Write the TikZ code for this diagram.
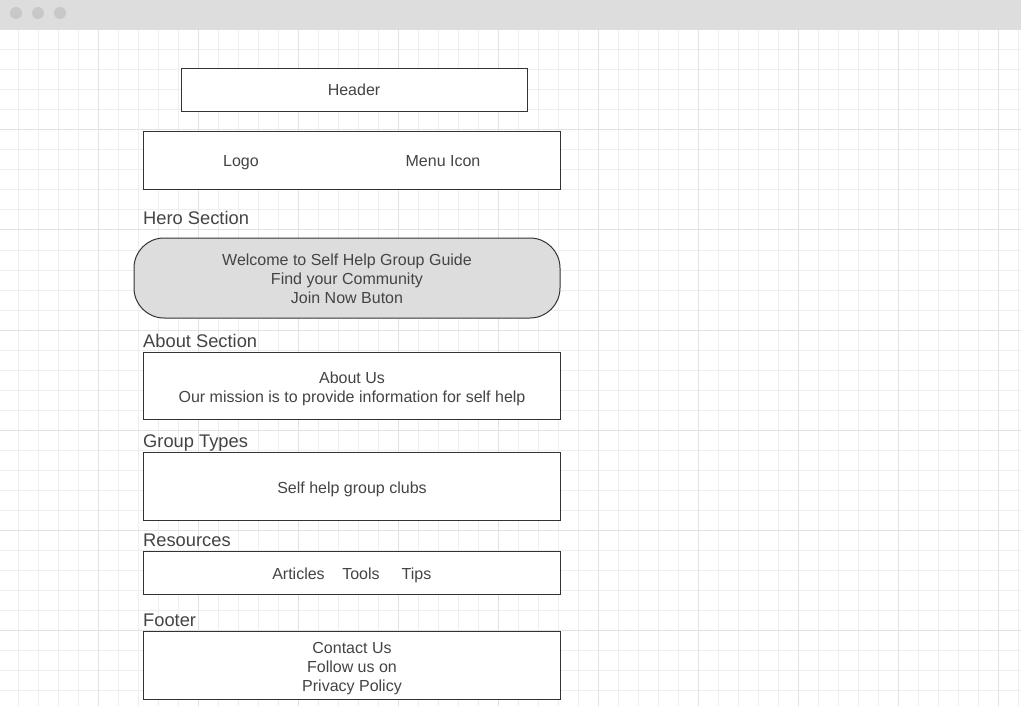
\documentclass[tikz,border=0pt]{standalone}
\usepackage{fontspec}
\setmainfont{Liberation Sans}
\definecolor{gridminor}{HTML}{EEEEEE}
\definecolor{gridmajor}{HTML}{E2E2E2}
\definecolor{barbg}{HTML}{DDDDDD}
\definecolor{dotc}{HTML}{C8C8C8}
\definecolor{txt}{HTML}{444444}
\definecolor{edge}{HTML}{333333}
\definecolor{herofill}{HTML}{DDDDDD}
\tikzset{
  box/.style={draw=edge, line width=1pt, fill=white, inner sep=0pt},
  boxtext/.style={text=txt, font=\fontsize{16}{19}\selectfont, align=center, inner sep=0pt, anchor=base},
  seclabel/.style={text=txt, font=\fontsize{18.3}{20}\selectfont, anchor=base west, inner sep=0pt},
}
\begin{document}
\begin{tikzpicture}[x=1pt,y=-1pt]
\useasboundingbox (0,0) rectangle (1021,706);
\fill[white] (0,0) rectangle (1021,706);
% grid
\foreach \x in {18,38,...,1018} \draw[gridminor, line width=1pt] (\x,30) -- (\x,706);
\foreach \y in {50,70,...,706} \draw[gridminor, line width=1pt] (0,\y) -- (1021,\y);
\foreach \x in {98,198,...,998} \draw[gridmajor, line width=1pt] (\x,30) -- (\x,706);
\foreach \y in {130,230,...,630} \draw[gridmajor, line width=1pt] (0,\y) -- (1021,\y);
% top bar
\fill[barbg] (0,0) rectangle (1021,30);
\fill[dotc] (16,13) circle (6);
\fill[dotc] (38,13) circle (6);
\fill[dotc] (60,13) circle (6);
% header
\draw[box] (181,69) rectangle (527,112);
\node[boxtext] (header) at (354,96) {Header};
% logo / menu
\draw[box] (143,132) rectangle (560,190);
\node[boxtext] (logo) at (241,167) {Logo};
\node[boxtext] (menu) at (443,167) {Menu Icon};
% hero
\node[seclabel] (herolbl) at (143,225) {Hero Section};
\draw[draw=edge, line width=1pt, fill=herofill, rounded corners=30pt] (134,238) rectangle (560,318);
\node[boxtext] (hero) at (347,303) {Welcome to Self Help Group Guide\\Find your Community\\Join Now Buton};
% about
\node[seclabel] (aboutlbl) at (143,347) {About Section};
\draw[box] (143,352) rectangle (560,419);
\node[boxtext] (about) at (352,402) {About Us\\Our mission is to provide information for self help};
% group types
\node[seclabel] (grouplbl) at (143,447) {Group Types};
\draw[box] (143,452) rectangle (560,520);
\node[boxtext] (group) at (352,493) {Self help group clubs};
% resources
\node[seclabel] (reslbl) at (143,546.5) {Resources};
\draw[box] (143,551) rectangle (560,594);
\node[boxtext] (articles) at (298.5,579) {Articles};
\node[boxtext] (tools) at (361,579) {Tools};
\node[boxtext] (tips) at (416.5,579) {Tips};
% footer
\node[seclabel] (footlbl) at (143,626.5) {Footer};
\draw[box] (143,631) rectangle (560,699);
\node[boxtext] (footer) at (352,691) {Contact Us\\Follow us on\\Privacy Policy};
\end{tikzpicture}
\end{document}
